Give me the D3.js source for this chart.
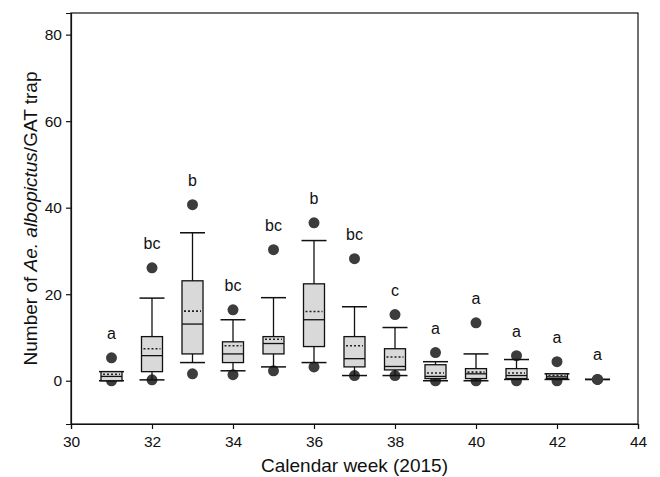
<!DOCTYPE html>
<html>
<head>
<meta charset="utf-8">
<script src="https://cdn.jsdelivr.net/npm/d3@7"></script>
<style>
  body { margin: 0; background: #fff; }
  svg { display: block; font-family: "Liberation Sans", Arial, sans-serif; }
</style>
</head>
<body>
<svg id="chart" width="660" height="477"></svg>
<script>
const weeks       = [31, 32, 33, 34, 35, 36, 37, 38, 39, 40, 41, 42, 43];
const whiskerLow  = [0, 0.2, 4.2, 2.3, 3.2, 4.2, 1.2, 1.2, 0, 0, 0.3, 0.3, 0.3];
const q1          = [0, 2.1, 6.2, 4.2, 6.2, 7.9, 3.2, 2.5, 0.5, 0.5, 0.5, 0.5, 0.3];
const median      = [1.0, 5.8, 13.1, 6.2, 8.6, 14.1, 5.1, 3.3, 1.0, 1.6, 1.2, 0.9, 0.3];
const mean        = [1.5, 7.4, 16.1, 8.1, 9.6, 16.0, 8.1, 5.5, 1.8, 2.0, 1.8, 1.2, null];
const q3          = [2.1, 10.2, 23.1, 9.0, 10.2, 22.4, 10.2, 7.4, 3.7, 2.8, 2.8, 1.6, 0.3];
const whiskerHigh = [2.1, 19.1, 34.2, 14.1, 19.2, 32.4, 17.1, 12.3, 4.4, 6.2, 4.9, 1.6, 0.3];
const outlierHigh = [5.3, 26.1, 40.7, 16.4, 30.3, 36.5, 28.2, 15.3, 6.5, 13.4, 5.8, 4.4, 0.3];
const outlierLow  = [0, 0.2, 1.6, 1.4, 2.3, 3.2, 1.2, 1.2, 0, 0, 0, 0, null];
const letters     = ["a", "bc", "b", "bc", "bc", "b", "bc", "c", "a", "a", "a", "a", "a"];
const xTicks = [30, 32, 34, 36, 38, 40, 42, 44];
const yTicks = [0, 20, 40, 60, 80];

const svg = d3.select("#chart");
const x = d3.scaleLinear().domain([30, 44]).range([71, 638]);
const y = d3.scaleLinear().domain([-10, 85]).range([424, 13]);

const data = weeks.map((w, i) => ({
  w, lo: whiskerLow[i], q1: q1[i], med: median[i], mean: mean[i], q3: q3[i],
  hi: whiskerHigh[i], oh: outlierHigh[i], ol: outlierLow[i], letter: letters[i]
}));

const boxW = 21, capW = 25;

// frame
svg.append("rect")
  .attr("x", x(30)).attr("y", y(85))
  .attr("width", x(44) - x(30)).attr("height", y(-10) - y(85))
  .attr("fill", "none").attr("stroke", "#111").attr("stroke-width", 1.2);

// axes
const xAxis = svg.append("g").attr("transform", `translate(0,${y(-10)})`)
  .call(d3.axisBottom(x).tickValues(xTicks).tickSize(5).tickPadding(7));
const yAxis = svg.append("g").attr("transform", `translate(${x(30)},0)`)
  .call(d3.axisLeft(y).tickValues(yTicks).tickSize(5).tickPadding(4));
[xAxis, yAxis].forEach(g => {
  g.select(".domain").attr("stroke", "#111").attr("stroke-width", 1.2);
  g.selectAll(".tick line").attr("stroke", "#111").attr("stroke-width", 1.2);
  g.selectAll(".tick text").attr("font-size", 15.5).attr("fill", "#111")
    .attr("font-family", "Liberation Sans, Arial, sans-serif");
});

const g = svg.append("g");

// outlier dots (behind boxes)
g.selectAll("circle.oh").data(data.filter(d => d.oh != null)).join("circle")
  .attr("cx", d => x(d.w)).attr("cy", d => y(d.oh)).attr("r", 5.5)
  .attr("fill", "#3c3c3c");
g.selectAll("circle.ol").data(data.filter(d => d.ol != null)).join("circle")
  .attr("cx", d => x(d.w)).attr("cy", d => y(d.ol)).attr("r", 5.5)
  .attr("fill", "#3c3c3c");

// whisker stems
g.selectAll("line.stem").data(data).join("line")
  .attr("x1", d => x(d.w)).attr("x2", d => x(d.w))
  .attr("y1", d => y(d.lo)).attr("y2", d => y(d.hi))
  .attr("stroke", "#111").attr("stroke-width", 1.3);
// caps
["lo", "hi"].forEach(k => {
  g.selectAll("line.cap" + k).data(data).join("line")
    .attr("x1", d => x(d.w) - capW / 2).attr("x2", d => x(d.w) + capW / 2)
    .attr("y1", d => y(d[k])).attr("y2", d => y(d[k]))
    .attr("stroke", "#111").attr("stroke-width", 1.5);
});

// boxes
const boxes = data.filter(d => d.q3 > d.q1);
g.selectAll("rect.box").data(boxes).join("rect")
  .attr("x", d => x(d.w) - boxW / 2).attr("width", boxW)
  .attr("y", d => y(d.q3)).attr("height", d => y(d.q1) - y(d.q3))
  .attr("fill", "#d9d9d9").attr("stroke", "#111").attr("stroke-width", 1.3);
// medians
g.selectAll("line.med").data(boxes).join("line")
  .attr("x1", d => x(d.w) - boxW / 2).attr("x2", d => x(d.w) + boxW / 2)
  .attr("y1", d => y(d.med)).attr("y2", d => y(d.med))
  .attr("stroke", "#111").attr("stroke-width", 1.3);
// means (dotted)
g.selectAll("line.mean").data(boxes.filter(d => d.mean != null)).join("line")
  .attr("x1", d => x(d.w) - boxW / 2 + 2).attr("x2", d => x(d.w) + boxW / 2 - 2)
  .attr("y1", d => y(d.mean)).attr("y2", d => y(d.mean))
  .attr("stroke", "#222").attr("stroke-width", 1.6).attr("stroke-dasharray", "2,2");

// single point week 43 dot on top
g.selectAll("circle.single").data(data.filter(d => d.q3 === d.q1)).join("circle")
  .attr("cx", d => x(d.w)).attr("cy", d => y(d.oh)).attr("r", 5.5)
  .attr("fill", "#3c3c3c");

// significance letters
g.selectAll("text.letter").data(data).join("text")
  .attr("x", d => x(d.w)).attr("y", d => y(d.oh) - 19)
  .attr("text-anchor", "middle").attr("font-size", 16).attr("fill", "#111")
  .text(d => d.letter);

// axis titles
svg.append("text")
  .attr("x", (x(30) + x(44)) / 2).attr("y", 472)
  .attr("text-anchor", "middle").attr("font-size", 19).attr("fill", "#111")
  .text("Calendar week (2015)");

const yt = svg.append("text")
  .attr("transform", `translate(37,${(y(85) + y(-10)) / 2}) rotate(-90)`)
  .attr("text-anchor", "middle").attr("font-size", 19).attr("fill", "#111");
yt.append("tspan").text("Number of ");
yt.append("tspan").attr("font-style", "italic").text("Ae. albopictus");
yt.append("tspan").text("/GAT trap");
</script>
</body>
</html>
